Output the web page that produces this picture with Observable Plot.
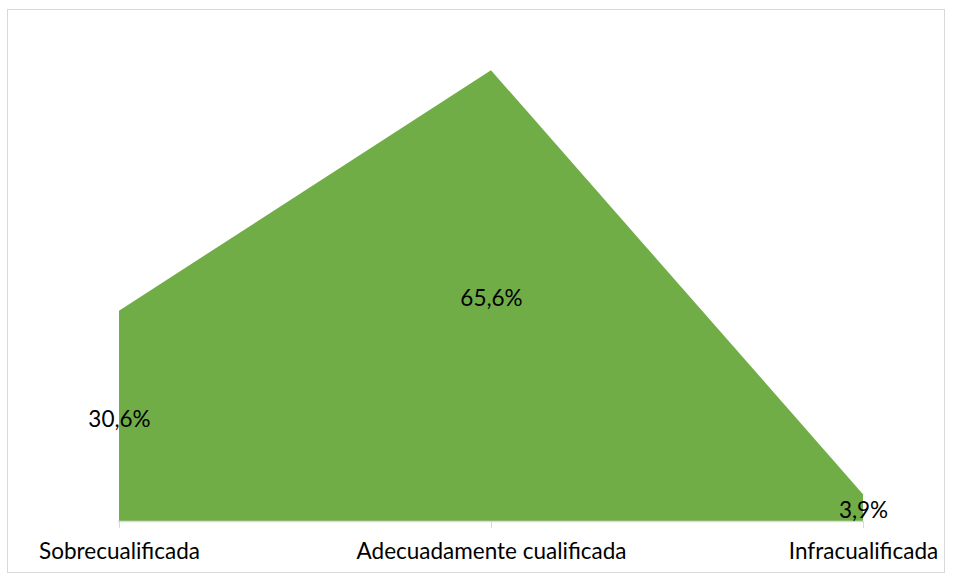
<!DOCTYPE html>
<html>
<head>
<meta charset="utf-8">
<script src="https://cdn.jsdelivr.net/npm/d3@7"></script>
<script src="https://cdn.jsdelivr.net/npm/@observablehq/plot@0.6"></script>
<style>
  html, body { margin: 0; padding: 0; background: #fff; }
  #wrap { position: relative; width: 955px; height: 582px; }
  #border { position: absolute; left: 7px; top: 9px; width: 938px; height: 564px; border: 1px solid #d9d9d9; box-sizing: border-box; pointer-events: none; }
  #chart { position: absolute; left: 0; top: 0; }
</style>
</head>
<body>
<div id="wrap"><div id="chart"></div><div id="border"></div></div>
<script>
const categories = ["Sobrecualificada", "Adecuadamente cualificada", "Infracualificada"];
const values = [30.6, 65.6, 3.9];
const valueLabels = ["30,6%", "65,6%", "3,9%"];

const data = categories.map((c, i) => ({cat: c, v: values[i], label: valueLabels[i]}));

const chart = Plot.plot({
  width: 955,
  height: 582,
  marginLeft: 118,
  marginRight: 92,
  marginTop: 40,
  marginBottom: 61,
  style: {fontFamily: "Lato, sans-serif", fontSize: "22.5px", color: "#000", background: "transparent"},
  x: {type: "point", domain: categories, padding: 0},
  y: {domain: [0, 70], axis: null},
  marks: [
    Plot.areaY(data, {x: "cat", y: "v", fill: "#70AD47", curve: "linear"}),
    Plot.ruleY([0], {stroke: "#d9d9d9", strokeWidth: 1.5}),
    Plot.axisX({tickSize: 7, tickPadding: 15, stroke: "#d9d9d9", fontSize: 22.5, fill: "#000", label: null}),
    Plot.text(data, {x: "cat", y: d => d.v / 2, text: "label", fontSize: 22.5, fill: "#000", dy: 3})
  ]
});
document.getElementById("chart").appendChild(chart);
</script>
</body>
</html>
